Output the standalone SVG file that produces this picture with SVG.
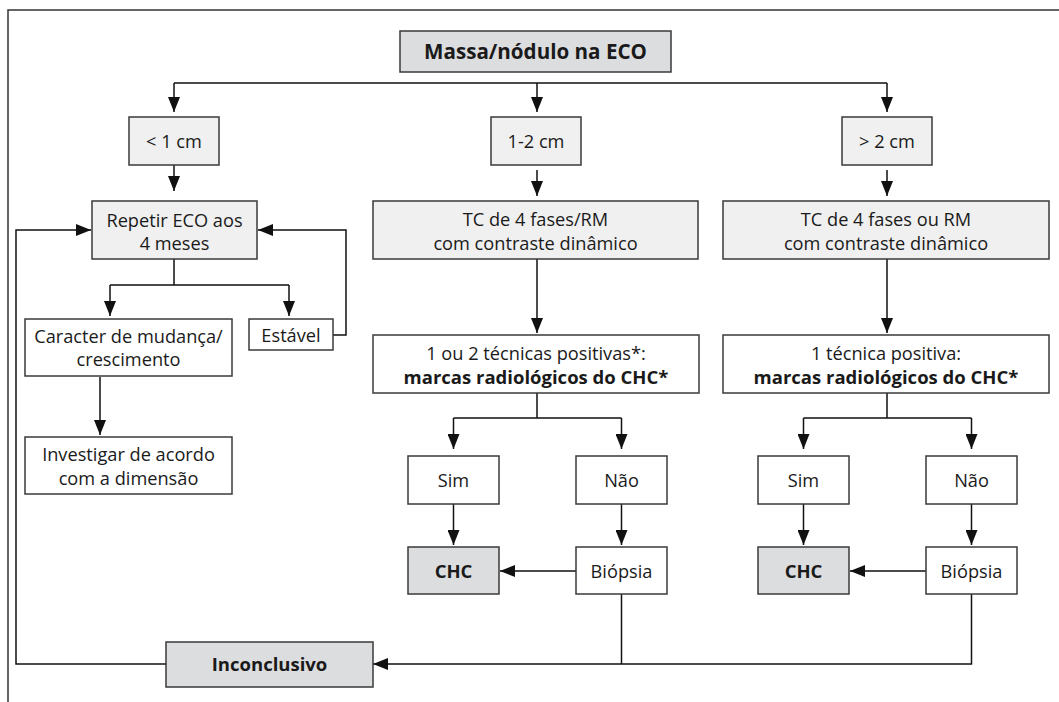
<svg xmlns="http://www.w3.org/2000/svg" width="1059" height="702" viewBox="0 0 1059 702">
  <defs>
    <marker id="arrow" markerUnits="userSpaceOnUse" markerWidth="15" markerHeight="12" viewBox="0 0 15 12" refX="15" refY="6" orient="auto">
      <path d="M0,0 L15,6 L0,12 z" fill="#111"/>
    </marker>
    <style>
      .box { stroke: #3a3a3a; stroke-width: 1.5; }
      .light { fill: #f0f0f0; }
      .dark { fill: #dcdddf; }
      .white { fill: #ffffff; }
      .wire { fill: none; stroke: #111; stroke-width: 1.5; }
      .arr { marker-end: url(#arrow); }
      text { font-family: "Open Sans", "Noto Sans", "DejaVu Sans", sans-serif; font-size: 18.2px; fill: #1a1a1a; text-anchor: middle; }
      .b { font-weight: bold; font-size: 18.5px; }
      .title { font-size: 20.6px; font-weight: bold; }
      .frame { fill: none; stroke: #333; stroke-width: 1.5; }
    </style>
  </defs>

  <rect width="1059" height="702" fill="#ffffff"/>
  <!-- page frame: top and left rules only -->
  <path class="frame" d="M8,702 V10 H1059"/>

  <!-- connectors -->
  <g id="connectors">
    <path class="wire" d="M174,83 H887"/>
    <path class="wire arr" d="M174,83 V112"/>
    <path class="wire arr" d="M537,83 V112"/>
    <path class="wire arr" d="M887,83 V112"/>

    <path class="wire arr" d="M174,165 V191"/>
    <path class="wire arr" d="M537,170 V196"/>
    <path class="wire arr" d="M887,170 V196"/>

    <path class="wire" d="M174,259 V285 M110,285 H289"/>
    <path class="wire arr" d="M110,285 V316"/>
    <path class="wire arr" d="M289,285 V316"/>
    <path class="wire arr" d="M333,335 H346 V230 H258"/>
    <path class="wire arr" d="M100,377 V435"/>
    <path class="wire arr" d="M166,664 H16 V230 H91"/>

    <path class="wire arr" d="M537,259 V333"/>
    <path class="wire arr" d="M887,259 V333"/>

    <path class="wire" d="M537,393 V418 M453.5,418 H621.5"/>
    <path class="wire arr" d="M453.5,418 V449"/>
    <path class="wire arr" d="M621.5,418 V449"/>
    <path class="wire" d="M887,393 V418 M803.5,418 H971.5"/>
    <path class="wire arr" d="M803.5,418 V449"/>
    <path class="wire arr" d="M971.5,418 V449"/>

    <path class="wire arr" d="M453.5,504 V545"/>
    <path class="wire arr" d="M621.5,504 V545"/>
    <path class="wire arr" d="M803.5,504 V545"/>
    <path class="wire arr" d="M971.5,504 V545"/>

    <path class="wire arr" d="M576,571 H500"/>
    <path class="wire arr" d="M926,571 H850"/>

    <path class="wire" d="M621.5,594 V664"/>
    <path class="wire arr" d="M971.5,594 V664 H373"/>
  </g>

  <!-- nodes -->
  <g id="n-massa">
    <rect class="box dark" x="400" y="31" width="271" height="41"/>
    <text class="title" x="535.5" y="58.5">Massa/nódulo na ECO</text>
  </g>
  <g id="n-lt1">
    <rect class="box light" x="129" y="117" width="90" height="48"/>
    <text x="174" y="147.5">&lt; 1 cm</text>
  </g>
  <g id="n-1a2">
    <rect class="box light" x="491" y="117" width="90" height="48"/>
    <text x="536" y="147.5">1-2 cm</text>
  </g>
  <g id="n-gt2">
    <rect class="box light" x="842" y="117" width="90" height="48"/>
    <text x="887" y="147.5">&gt; 2 cm</text>
  </g>
  <g id="n-repetir">
    <rect class="box light" x="92" y="201" width="165" height="58"/>
    <text x="174.5" y="226.5">Repetir ECO aos</text>
    <text x="174.5" y="249.5">4 meses</text>
  </g>
  <g id="n-tc1">
    <rect class="box light" x="373" y="201" width="325" height="58"/>
    <text x="535.5" y="225.5">TC de 4 fases/RM</text>
    <text x="535.5" y="249.5">com contraste dinâmico</text>
  </g>
  <g id="n-tc2">
    <rect class="box light" x="723" y="201" width="326" height="58"/>
    <text x="886" y="225.5">TC de 4 fases ou RM</text>
    <text x="886" y="249.5">com contraste dinâmico</text>
  </g>
  <g id="n-caracter">
    <rect class="box white" x="25" y="319" width="207" height="57"/>
    <text x="128.5" y="342.5">Caracter de mudança/</text>
    <text x="128.5" y="366">crescimento</text>
  </g>
  <g id="n-estavel">
    <rect class="box white" x="249" y="319" width="84" height="31"/>
    <text x="291" y="342">Estável</text>
  </g>
  <g id="n-investigar">
    <rect class="box white" x="25" y="437" width="207" height="57"/>
    <text x="128.5" y="461">Investigar de acordo</text>
    <text x="128.5" y="484.5">com a dimensão</text>
  </g>
  <g id="n-tec1">
    <rect class="box white" x="373" y="335" width="326" height="58"/>
    <text x="536" y="359.5">1 ou 2 técnicas positivas*:</text>
    <text class="b" x="536" y="383.5">marcas radiológicos do CHC*</text>
  </g>
  <g id="n-tec2">
    <rect class="box white" x="723" y="335" width="326" height="58"/>
    <text x="886" y="359.5">1 técnica positiva:</text>
    <text class="b" x="886" y="383.5">marcas radiológicos do CHC*</text>
  </g>
  <g id="n-sim1">
    <rect class="box white" x="408" y="456" width="91" height="48"/>
    <text x="453.5" y="486.5">Sim</text>
  </g>
  <g id="n-nao1">
    <rect class="box white" x="576" y="456" width="91" height="48"/>
    <text x="621.5" y="486.5">Não</text>
  </g>
  <g id="n-chc1">
    <rect class="box dark" x="408" y="547" width="91" height="47"/>
    <text class="b" x="453.5" y="578">CHC</text>
  </g>
  <g id="n-biopsia1">
    <rect class="box white" x="576" y="547" width="91" height="47"/>
    <text x="621.5" y="578">Biópsia</text>
  </g>
  <g id="n-sim2">
    <rect class="box white" x="758" y="456" width="91" height="48"/>
    <text x="803.5" y="486.5">Sim</text>
  </g>
  <g id="n-nao2">
    <rect class="box white" x="926" y="456" width="91" height="48"/>
    <text x="971.5" y="486.5">Não</text>
  </g>
  <g id="n-chc2">
    <rect class="box dark" x="758" y="547" width="91" height="47"/>
    <text class="b" x="803.5" y="578">CHC</text>
  </g>
  <g id="n-biopsia2">
    <rect class="box white" x="926" y="547" width="91" height="47"/>
    <text x="971.5" y="578">Biópsia</text>
  </g>
  <g id="n-inconclusivo">
    <rect class="box dark" x="166" y="642" width="207" height="45"/>
    <text class="b" x="269.5" y="671">Inconclusivo</text>
  </g>
</svg>
